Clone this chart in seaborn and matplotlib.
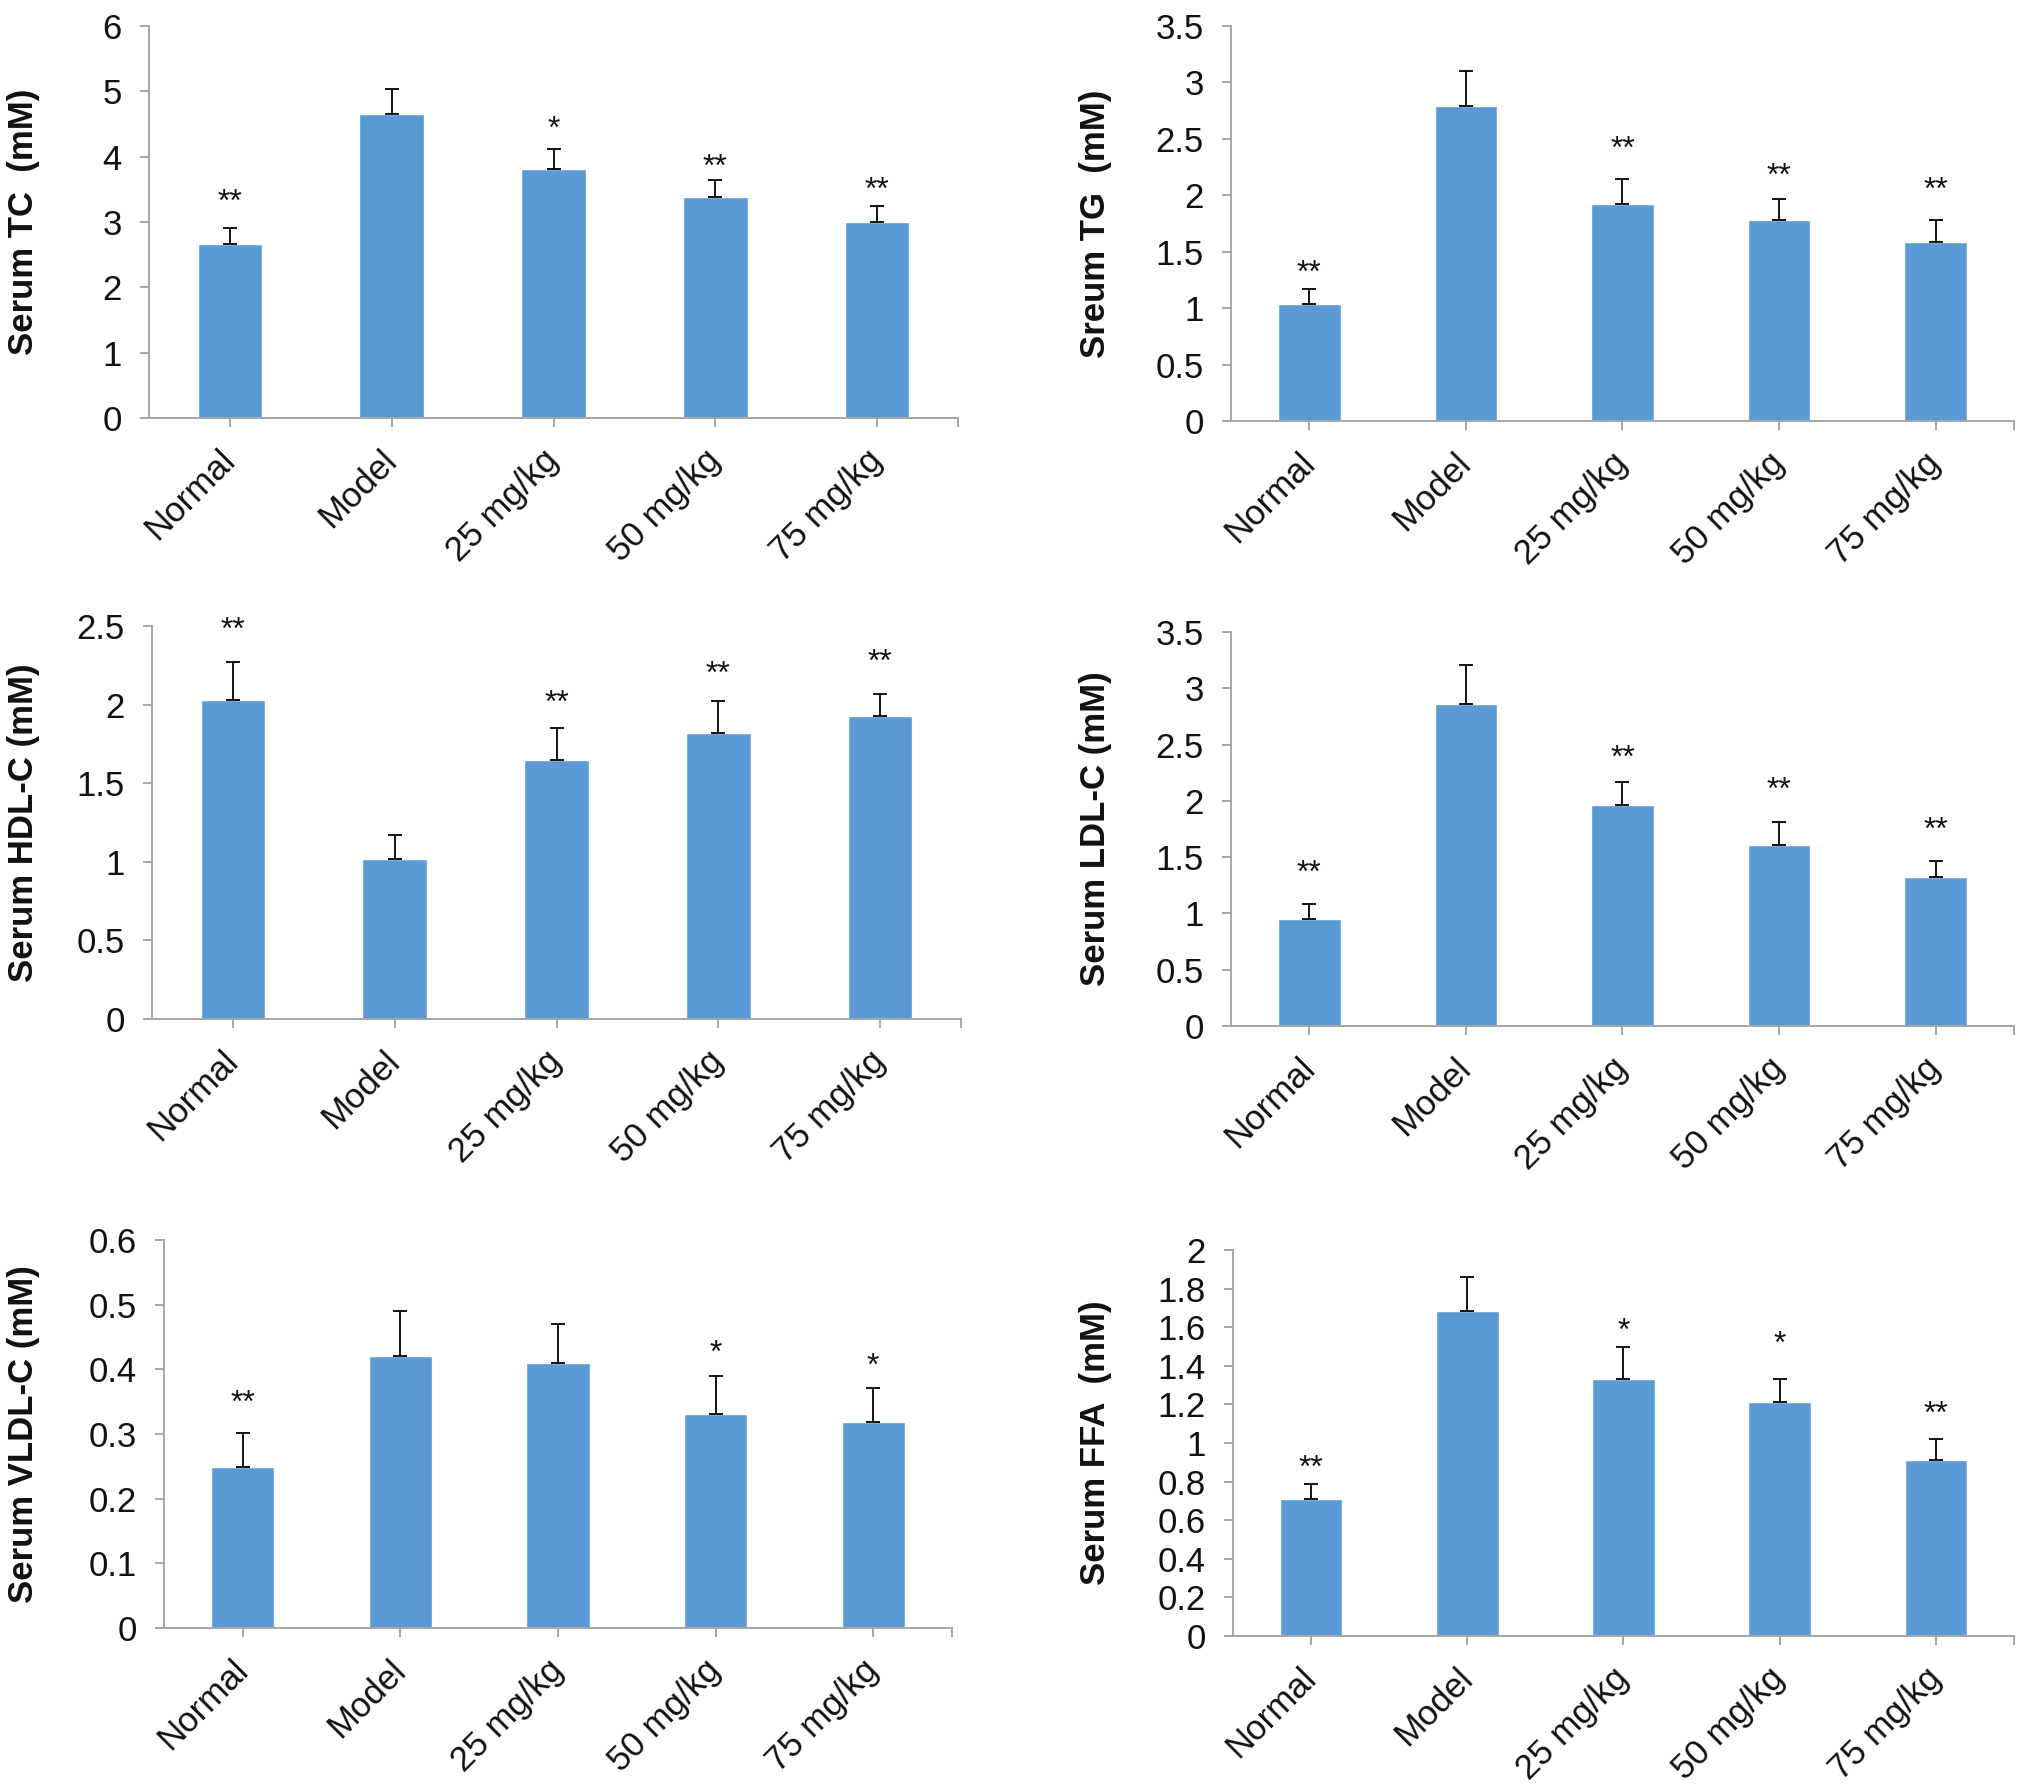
import numpy as np
import pandas as pd
import matplotlib
matplotlib.use("Agg")
import matplotlib.pyplot as plt
from matplotlib.ticker import FixedLocator
import seaborn as sns

# ---------------- data ----------------
groups = ["Normal", "Model", "25 mg/kg", "50 mg/kg", "75 mg/kg"]

tc_mean = [2.67, 4.66, 3.81, 3.38, 3.00]
tc_upper = [2.91, 5.04, 4.12, 3.65, 3.24]
tc_sig = ["**", "", "*", "**", "**"]
tc_sig_y = [3.44, np.nan, 4.56, 3.98, 3.63]

tg_mean = [1.04, 2.79, 1.92, 1.78, 1.59]
tg_upper = [1.17, 3.10, 2.14, 1.97, 1.78]
tg_sig = ["**", "", "**", "**", "**"]
tg_sig_y = [1.39, np.nan, 2.49, 2.25, 2.13]

hdl_mean = [2.03, 1.02, 1.65, 1.82, 1.93]
hdl_upper = [2.27, 1.17, 1.85, 2.02, 2.07]
hdl_sig = ["**", "", "**", "**", "**"]
hdl_sig_y = [2.53, np.nan, 2.07, 2.25, 2.33]

ldl_mean = [0.95, 2.86, 1.96, 1.61, 1.32]
ldl_upper = [1.08, 3.21, 2.17, 1.81, 1.47]
ldl_sig = ["**", "", "**", "**", "**"]
ldl_sig_y = [1.44, np.nan, 2.46, 2.18, 1.82]

vldl_mean = [0.249, 0.420, 0.410, 0.331, 0.319]
vldl_upper = [0.301, 0.490, 0.470, 0.390, 0.371]
vldl_sig = ["**", "", "", "*", "*"]
vldl_sig_y = [0.362, np.nan, np.nan, 0.440, 0.420]

ffa_mean = [0.709, 1.686, 1.333, 1.210, 0.910]
ffa_upper = [0.790, 1.860, 1.495, 1.330, 1.020]
ffa_sig = ["**", "", "*", "*", "**"]
ffa_sig_y = [0.92, np.nan, 1.63, 1.56, 1.20]

labels = ["Serum TC  (mM)", "Sreum TG  (mM)", "Serum HDL-C (mM)",
          "Serum LDL-C (mM)", "Serum VLDL-C (mM)", "Serum FFA  (mM)"]
y_max = [6, 3.5, 2.5, 3.5, 0.6, 2.0]
y_step = [1, 0.5, 0.5, 0.5, 0.1, 0.2]

# ---------------- layout (pixels) ----------------
W, H = 2031, 1792
# (left, right, top, bottom) of each plotting area, in pixels
boxes = [(149, 958, 26, 418), (1231, 2014, 26, 421),
         (152, 961, 626, 1019), (1231, 2014, 632, 1026),
         (164, 952, 1240, 1628), (1233, 2014, 1250, 1636)]
label_x = [24, 1096, 24, 1096, 24, 1096]

sns.set_theme(style="white")
plt.rcParams["font.family"] = ["Liberation Sans", "DejaVu Sans"]

BAR = "#5B9BD5"
AX = "#A6A6A6"
TXT = "#111111"

fig = plt.figure(figsize=(W / 100, H / 100), dpi=100)

panels = [
    (tc_mean, tc_upper, tc_sig, tc_sig_y),
    (tg_mean, tg_upper, tg_sig, tg_sig_y),
    (hdl_mean, hdl_upper, hdl_sig, hdl_sig_y),
    (ldl_mean, ldl_upper, ldl_sig, ldl_sig_y),
    (vldl_mean, vldl_upper, vldl_sig, vldl_sig_y),
    (ffa_mean, ffa_upper, ffa_sig, ffa_sig_y),
]

for i, (mean, upper, sig, sig_y) in enumerate(panels):
    l, r, t, b = boxes[i]
    ax = fig.add_axes([l / W, 1 - b / H, (r - l) / W, (b - t) / H])
    df = pd.DataFrame({"group": groups, "value": mean})
    sns.barplot(data=df, x="group", y="value", color=BAR, width=0.40,
                saturation=1, errorbar=None, ax=ax, zorder=2)
    xs = np.arange(len(groups))
    err = np.array(upper) - np.array(mean)
    ax.errorbar(xs, mean, yerr=[np.zeros(len(mean)), err], fmt="none",
                ecolor="black", elinewidth=1.3, capsize=5, capthick=1.3, zorder=3)
    for x, s, sy in zip(xs, sig, sig_y):
        if s and not np.isnan(sy):
            ax.annotate(s, (x, sy), xytext=(0, -13), textcoords="offset points",
                        ha="center", va="baseline", fontsize=23, color=TXT,
                        annotation_clip=False)
    ticks = np.round(np.arange(0, y_max[i] + y_step[i] / 2, y_step[i]), 2)
    ax.set_ylim(0, y_max[i])
    ax.set_yticks(ticks)
    ax.set_yticklabels([f"{v:g}" for v in ticks])
    ax.set_xlim(-0.5, len(groups) - 0.5)
    ax.set_xticks(xs)
    ax.set_xticklabels(groups, rotation=45, ha="right", va="center",
                       rotation_mode="anchor")
    ax.xaxis.set_minor_locator(FixedLocator([len(groups) - 0.5]))
    ax.set_xlabel("")
    ax.set_ylabel("")
    for sp in ["top", "right"]:
        ax.spines[sp].set_visible(False)
    for sp in ["left", "bottom"]:
        ax.spines[sp].set_color(AX)
        ax.spines[sp].set_linewidth(1.4)
    ax.tick_params(axis="y", which="major", direction="out", length=6.5, width=1.4,
                   color=AX, labelsize=25, labelcolor=TXT, pad=13, left=True)
    ax.tick_params(axis="x", which="both", direction="out", length=6.5, width=1.4,
                   color=AX, labelsize=25, labelcolor=TXT, pad=20, bottom=True)
    ax.grid(False)
    fig.text(label_x[i] / W, 1 - ((t + b) / 2) / H, labels[i], rotation=90,
             ha="center", va="center", fontsize=25, fontweight="bold", color=TXT)

fig.savefig("out.png", dpi=100, facecolor="white")
